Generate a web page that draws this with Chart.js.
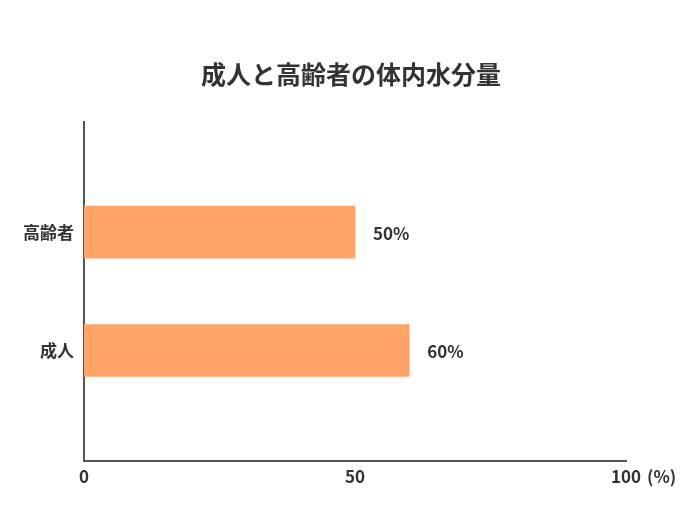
<!DOCTYPE html>
<html>
<head>
<meta charset="utf-8">
<script src="https://cdn.jsdelivr.net/npm/chart.js@4.4.1/dist/chart.umd.min.js"></script>
<style>
  html, body { margin: 0; padding: 0; background: #fff; }
  #wrap { width: 700px; height: 525px; }
</style>
</head>
<body>
<div id="wrap"><canvas id="c" width="700" height="525"></canvas></div>
<script>
const titleText = '成人と高齢者の体内水分量';
const categories = ['高齢者', '成人'];
const values = [50, 60];
const valueLabels = ['50%', '60%'];
const xTicks = [0, 50, 100];
const unitLabel = '(%)';

const FONT = '"Noto Sans CJK JP", "Noto Sans", sans-serif';
const TEXT = '#333333';
const AXIS = '#555555';

const titlePlugin = {
  id: 'pageTitle',
  afterDraw(chart) {
    const ctx = chart.ctx;
    ctx.save();
    ctx.font = 'bold 25px ' + FONT;
    ctx.fillStyle = TEXT;
    ctx.textAlign = 'center';
    ctx.textBaseline = 'middle';
    ctx.fillText(titleText, chart.width / 2 + 1, 74);
    ctx.restore();
  }
};

const valueLabelPlugin = {
  id: 'valueLabels',
  afterDatasetsDraw(chart) {
    const ctx = chart.ctx;
    const meta = chart.getDatasetMeta(0);
    ctx.save();
    ctx.font = 'bold 17px ' + FONT;
    ctx.fillStyle = TEXT;
    ctx.textAlign = 'left';
    ctx.textBaseline = 'middle';
    meta.data.forEach((el, i) => {
      ctx.fillText(valueLabels[i], el.x + 18, el.y + 1);
    });
    ctx.restore();
  }
};

const unitPlugin = {
  id: 'unitLabel',
  afterDraw(chart) {
    const ctx = chart.ctx;
    const xs = chart.scales.x;
    ctx.save();
    ctx.font = 'bold 17px ' + FONT;
    ctx.fillStyle = TEXT;
    ctx.textAlign = 'left';
    ctx.textBaseline = 'middle';
    ctx.fillText(unitLabel, xs.getPixelForValue(100) + 21, chart.chartArea.bottom + 16);
    ctx.restore();
  }
};

new Chart(document.getElementById('c'), {
  type: 'bar',
  data: {
    datasets: [{
      data: categories.map((c, i) => ({ x: values[i], y: i })),
      backgroundColor: '#FFA468',
      borderWidth: 0,
      barThickness: 52
    }]
  },
  options: {
    indexAxis: 'y',
    responsive: false,
    animation: false,
    devicePixelRatio: 1,
    layout: { padding: { left: 24, right: 74, top: 122, bottom: 32 } },
    plugins: {
      legend: { display: false },
      tooltip: { enabled: false },
      title: { display: false }
    },
    scales: {
      x: {
        type: 'linear',
        min: 0,
        max: 100,
        afterBuildTicks: s => { s.ticks = xTicks.map(v => ({ value: v })); },
        grid: { display: false, drawTicks: false },
        border: { display: true, color: AXIS, width: 2 },
        ticks: {
          color: TEXT,
          padding: 6,
          maxRotation: 0,
          font: { family: FONT, size: 17, weight: 'bold' }
        }
      },
      y: {
        type: 'linear',
        reverse: true,
        offset: false,
        min: -0.93,
        max: 1.93,
        afterBuildTicks: s => { s.ticks = categories.map((c, i) => ({ value: i })); },
        afterFit: s => { s.width = 60; },
        grid: { display: false, drawTicks: false },
        border: { display: true, color: AXIS, width: 2 },
        ticks: {
          color: TEXT,
          padding: 10,
          font: { family: FONT, size: 17, weight: 'bold' },
          callback: v => categories[v] !== undefined ? categories[v] : ''
        }
      }
    }
  },
  plugins: [titlePlugin, valueLabelPlugin, unitPlugin]
});
</script>
</body>
</html>
